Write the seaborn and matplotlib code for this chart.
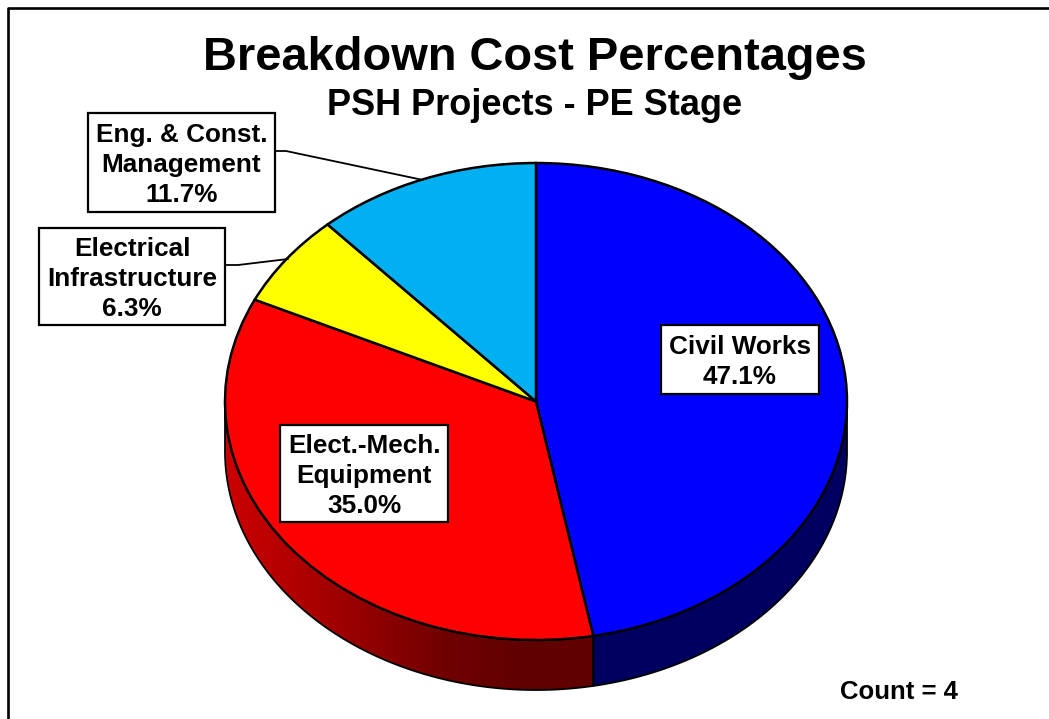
import numpy as np
import matplotlib
matplotlib.use('Agg')
import matplotlib.pyplot as plt
from matplotlib.colors import LinearSegmentedColormap
from matplotlib.patches import Polygon, Rectangle
import seaborn as sns

# values
categories = ['Civil Works', 'Elect.-Mech.\nEquipment', 'Electrical\nInfrastructure', 'Eng. & Const.\nManagement']
percentages = [47.1, 35.0, 6.3, 11.7]
slice_colors = ['#0000FF', '#FF0000', '#FFFF00', '#00B0F0']
count = 4

title = 'Breakdown Cost Percentages'
subtitle = 'PSH Projects - PE Stage'

# pixel layout of the picture
W, H = 1049, 719
CX, CY, RX, RY, DEPTH = 536, 401.5, 311, 238.5, 50

sns.set_theme(style='white')
plt.rcParams['font.family'] = ['Liberation Sans', 'DejaVu Sans']
plt.rcParams['font.weight'] = 'bold'

fig = plt.figure(figsize=(W / 100, H / 100), dpi=100, facecolor='white')

# pie axes: one data unit is one radius, squashed into an ellipse
ax = fig.add_axes([0, 0, 1, 1])
ax.pie(percentages, colors=sns.color_palette(slice_colors), startangle=90,
       counterclock=False, normalize=True,
       wedgeprops=dict(edgecolor='black', linewidth=1.8, zorder=5))
ax.set_aspect('auto')
ax.axis('off')
depth = DEPTH / RY

# slice boundaries in degrees, going clockwise from the top
shares = np.array(percentages) / sum(percentages) * 360
ends = 90 - np.cumsum(shares)
starts = ends + shares


def wall_points(a0, a1):
    t = np.radians(np.linspace(a0, a1, 200))
    x, y = np.cos(t), np.sin(t)
    return np.r_[np.c_[x, y], np.c_[x, y - depth][::-1]]


# side walls under the slices that reach the lower half
side_cmaps = {
    1: LinearSegmentedColormap.from_list('red_side', [(0, '#CC0000'), (0.25, '#A80000'), (0.6, '#700000'),
                                                      (0.8, '#600000'), (1, '#600000')]),
    0: LinearSegmentedColormap.from_list('blue_side', ['#000060', '#000060']),
}
for i, cmap in side_cmaps.items():
    a1 = min(starts[i], 0)
    a0 = max(ends[i], -180)
    pts = wall_points(a0, a1)
    poly = Polygon(pts, closed=True, facecolor='none', edgecolor='black', linewidth=1.3, zorder=3)
    ax.add_patch(poly)
    img = ax.imshow(np.linspace(0, 1, 256)[None, :], cmap=cmap, aspect='auto', zorder=2,
                    extent=[pts[:, 0].min(), pts[:, 0].max(), pts[:, 1].min(), pts[:, 1].max()])
    img.set_clip_path(poly)
ax.set_xlim(-CX / RX, (W - CX) / RX)
ax.set_ylim((CY - H) / RY, CY / RY)

# overlay in picture pixels for frame, titles and label boxes
ov = fig.add_axes([0, 0, 1, 1], facecolor='none')
ov.set_xlim(0, W)
ov.set_ylim(H, 0)
ov.axis('off')

ov.plot([8, 8, W + 5], [H + 5, 8.2, 8.2], color='black', lw=1.9)

ov.text(535, 57.5, title, fontsize=33.8, ha='center', va='center', color='black')
ov.text(535, 105.5, subtitle, fontsize=26, ha='center', va='center', color='black')

label_boxes = [(661, 325, 819, 394), (280, 425, 448, 522), (39, 228, 225, 325), (88, 113, 275, 212)]
leaders = {2: [(225, 265), (238, 265), (288, 259)], 3: [(275, 151), (286, 151), (423, 180)]}

for i, (name, pct) in enumerate(zip(categories, percentages)):
    x0, y0, x1, y1 = label_boxes[i]
    ov.add_patch(Rectangle((x0, y0), x1 - x0, y1 - y0, facecolor='white', edgecolor='black', lw=1.6, zorder=6))
    ov.text((x0 + x1) / 2, (y0 + y1) / 2 + 2.5, f'{name}\n{pct:.1f}%', fontsize=18.8, ha='center', va='center',
            linespacing=1.33, color='black', zorder=7)
    if i in leaders:
        xs, ys = zip(*leaders[i])
        ov.plot(xs, ys, color='black', lw=1.3, zorder=4)

ov.text(899, 692, f'Count = {count}', fontsize=18.5, ha='center', va='center', color='black')

fig.savefig('out.png', dpi=100)
